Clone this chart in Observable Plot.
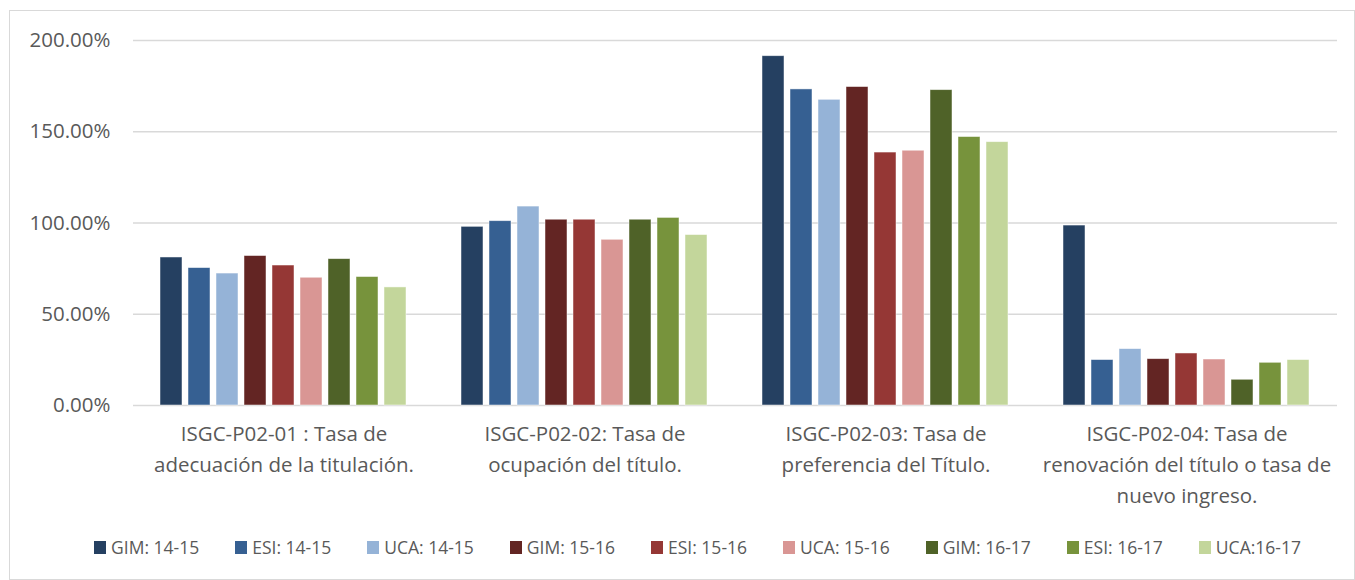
<!DOCTYPE html>
<html><head><meta charset="utf-8">
<script src="https://cdn.jsdelivr.net/npm/d3@7"></script>
<script src="https://cdn.jsdelivr.net/npm/@observablehq/plot@0.6"></script>
<style>
html,body{margin:0;padding:0;background:#fff;}
#frame{position:absolute;left:9px;top:10px;width:1346px;height:570px;border:1px solid #d9d9d9;box-sizing:border-box;}
#chart{position:absolute;left:0;top:0;}
#legend{position:absolute;left:40px;top:535px;width:1315px;display:flex;justify-content:center;align-items:center;font-family:"Open Sans",sans-serif;font-size:17.5px;color:#595959;white-space:nowrap;}
.item{display:flex;align-items:center;margin:0 18px;}
.sw{width:12px;height:13px;margin-right:5px;display:inline-block;}
</style>
</head><body>
<div id="frame"></div>
<div id="chart"></div>
<div id="legend"></div>
<script>
const categories = ["P02-01", "P02-02", "P02-03", "P02-04"];
const categoryLabels = [
  "ISGC-P02-01 : Tasa de\nadecuación de la titulación.",
  "ISGC-P02-02: Tasa de\nocupación del título.",
  "ISGC-P02-03: Tasa de\npreferencia del Título.",
  "ISGC-P02-04: Tasa de\nrenovación del título o tasa de\nnuevo ingreso."
];
const series = ["GIM: 14-15", "ESI: 14-15", "UCA: 14-15", "GIM: 15-16", "ESI: 15-16", "UCA: 15-16", "GIM: 16-17", "ESI: 16-17", "UCA:16-17"];
const colors = ["#254061", "#366092", "#95b3d7", "#632523", "#953735", "#d99694", "#4f6228", "#77933c", "#c3d69b"];
const yTicks = [0, 50, 100, 150, 200];

// values in percent, one array per series, in category order
const gim1415 = [81.1, 97.9, 191.4, 98.6];
const esi1415 = [75.3, 101.0, 173.2, 24.9];
const uca1415 = [72.3, 109.0, 167.5, 30.9];
const gim1516 = [81.9, 101.8, 174.5, 25.4];
const esi1516 = [76.7, 101.8, 138.6, 28.5];
const uca1516 = [70.0, 90.8, 139.6, 25.2];
const gim1617 = [80.2, 101.8, 172.8, 14.1];
const esi1617 = [70.4, 102.8, 147.1, 23.4];
const uca1617 = [64.7, 93.4, 144.3, 24.9];
const seriesValues = [gim1415, esi1415, uca1415, gim1516, esi1516, uca1516, gim1617, esi1617, uca1617];

const data = [];
series.forEach((s, i) => seriesValues[i].forEach((v, j) => data.push({cat: categories[j], series: s, value: v})));

const chart = Plot.plot({
  width: 1355,
  height: 520,
  marginLeft: 133,
  marginRight: 18,
  marginTop: 40,
  marginBottom: 115,
  style: {fontFamily: "'Open Sans', sans-serif", fontSize: "20.5px", color: "#595959", background: "transparent"},
  fx: {domain: categories, padding: 0, label: null, axis: null},
  x: {domain: series, paddingInner: 0.2, paddingOuter: 0.8, axis: null},
  y: {domain: [0, 200], label: null},
  color: {domain: series, range: colors},
  marks: [
    Plot.gridY(yTicks, {stroke: "#d9d9d9", strokeOpacity: 1, strokeWidth: 1.5}),
    Plot.barY(data, {fx: "cat", x: "series", y: "value", fill: "series", stroke: "#ffffff", strokeOpacity: 0.6, strokeWidth: 0.8}),
    Plot.axisY({ticks: yTicks, tickSize: 0, tickPadding: 23, tickFormat: d => d.toFixed(2) + "%", fill: "#595959", label: null}),
    Plot.axisFx({anchor: "bottom", tickSize: 0, tickPadding: 14, tickFormat: c => categoryLabels[categories.indexOf(c)], lineHeight: 1.5, fill: "#595959", label: null})
  ]
});
document.getElementById("chart").appendChild(chart);

const legend = document.getElementById("legend");
series.forEach((s, i) => {
  const it = document.createElement("div");
  it.className = "item";
  const sw = document.createElement("span");
  sw.className = "sw";
  sw.style.background = colors[i];
  const t = document.createElement("span");
  t.textContent = s;
  it.appendChild(sw); it.appendChild(t);
  legend.appendChild(it);
});
</script>
</body></html>
